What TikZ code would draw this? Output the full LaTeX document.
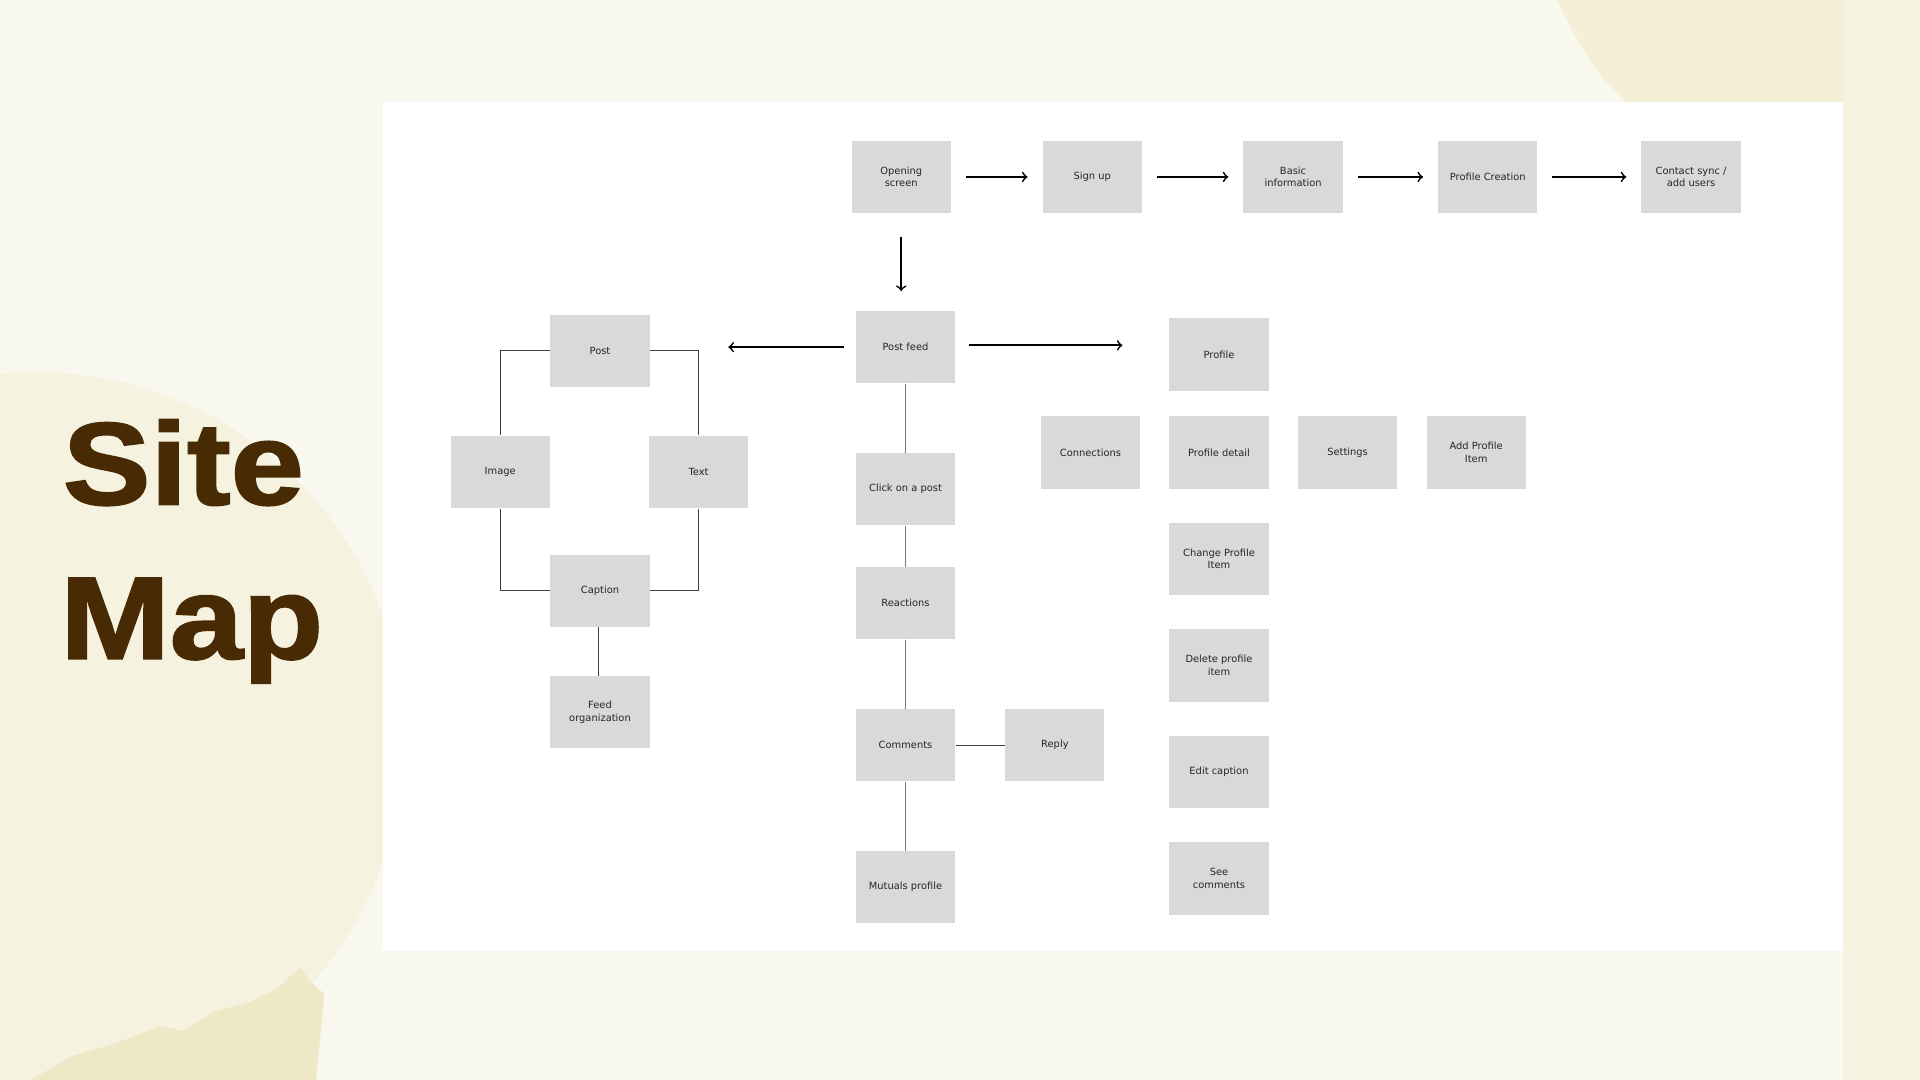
\documentclass[tikz,border=0pt]{standalone}
\usepackage{fontspec}
\setmainfont{DejaVu Sans}
\newfontfamily\titlefont{Liberation Sans}[BoldFeatures={FakeBold=1.6}]
\usetikzlibrary{arrows}
\definecolor{paper}{RGB}{249,248,238}
\definecolor{paperdark}{RGB}{245,242,223}
\definecolor{wash}{RGB}{244,239,214}
\definecolor{torn}{RGB}{238,232,198}
\definecolor{boxgray}{RGB}{217,217,217}
\definecolor{brown}{RGB}{72,43,5}
\definecolor{linegray}{RGB}{120,120,120}

\begin{document}
\begin{tikzpicture}[x=0.02cm,y=-0.02cm,
  box/.style={fill=boxgray,minimum width=1.62cm,minimum height=1.18cm,inner sep=1pt,
    align=center,text=black!85,font=\fontsize{4.6}{5.8}\selectfont},
  flow/.style={->,line width=0.8pt,shorten <=0.24cm,shorten >=0.24cm},
  link/.style={line width=0.5pt,color=black!75},
  stem/.style={line width=0.8pt,color=linegray},
  title/.style={anchor=base west,inner sep=0,text=brown,xscale=1.12,
    font=\titlefont\bfseries\fontsize{54.5}{54.5}\selectfont}]
  % background
  \fill[paper] (0,0) rectangle (1568,882);
  \useasboundingbox (0,0) rectangle (1568,882);
  \fill[paperdark] (30,604) circle (300);
  \fill[paperdark] (1505,0) rectangle (1568,882);
  \fill[wash] (1272,0) .. controls (1290,40) and (1310,70) .. (1330,84) -- (1505,84)
     -- (1505,0) -- cycle;
  \fill[torn] (25,882) -- (60,862) -- (95,852) -- (130,838) -- (150,842) -- (175,826)
     -- (205,818) -- (228,806) -- (245,790) -- (252,800) -- (265,812) -- (258,882) -- cycle;
  \fill[white] (313,83) rectangle (1505,777);

  % title
  \node[title] (site) at (51,412) {Site};
  \node[title] (map) at (49,538) {Map};

  % sign up flow
  \node[box] (open) at (736,144.5) {Opening\\screen};
  \node[box] (signup) at (892,144.5) {Sign up};
  \node[box] (basic) at (1056,144.5) {Basic\\information};
  \node[box] (create) at (1215,144.5) {Profile Creation};
  \node[box] (contact) at (1381,144.5) {Contact sync /\\add users};
  \draw[flow] (open) -- (signup);
  \draw[flow] (signup) -- (basic);
  \draw[flow] (basic) -- (create);
  \draw[flow] (create) -- (contact);

  % feed
  \node[box] (feed) at (739.5,283.5) {Post feed};
  \draw[flow,shorten <=0.38cm,shorten >=0.32cm] (open.south) -- (open.south |- feed.north);
  \node[box] (click) at (739.5,399.5) {Click on a post};
  \node[box] (react) at (739.5,492.5) {Reactions};
  \node[box] (comments) at (739.5,608.5) {Comments};
  \node[box] (mutuals) at (739.5,724.5) {Mutuals profile};
  \node[box] (reply) at (861.5,608.5) {Reply};
  \draw[stem] (feed) -- (click) -- (react) -- (comments) -- (mutuals);
  \draw[link] (comments) -- (reply);

  % post
  \node[box] (post) at (490,286.5) {Post};
  \node[box] (image) at (408.5,385.5) {Image};
  \node[box] (text) at (570.5,385.5) {Text};
  \node[box] (caption) at (490,482.5) {Caption};
  \node[box] (feedorg) at (490,581.5) {Feed\\organization};
  \draw[flow,shorten <=0.18cm,shorten >=1.28cm] (feed.west) -- (feed.west -| post.east);
  \draw[link] (post.west) -| (image.north);
  \draw[link] (post.east) -| (text.north);
  \draw[link] (image.south) |- (caption.west);
  \draw[link] (text.south) |- (caption.east);
  \draw[link] ([xshift=-0.03cm]caption.south) -- ([xshift=-0.03cm]feedorg.north);

  % profile
  \node[box] (profile) at (995.5,289.5) {Profile};
  \draw[flow,shorten <=0.22cm,shorten >=0.76cm] ([yshift=0.03cm]feed.east) -- ([yshift=0.03cm]feed.east -| profile.west);
  \node[box] (connect) at (890.5,369.5) {Connections};
  \node[box] (detail) at (995.5,369.5) {Profile detail};
  \node[box] (settings) at (1100.5,369.5) {Settings};
  \node[box] (additem) at (1205.5,369.5) {Add Profile\\Item};
  \node[box] (change) at (995.5,456.5) {Change Profile\\Item};
  \node[box] (delete) at (995.5,543.5) {Delete profile\\item};
  \node[box] (editcap) at (995.5,630.5) {Edit caption};
  \node[box] (seecom) at (995.5,717.5) {See\\comments};
\end{tikzpicture}
\end{document}
